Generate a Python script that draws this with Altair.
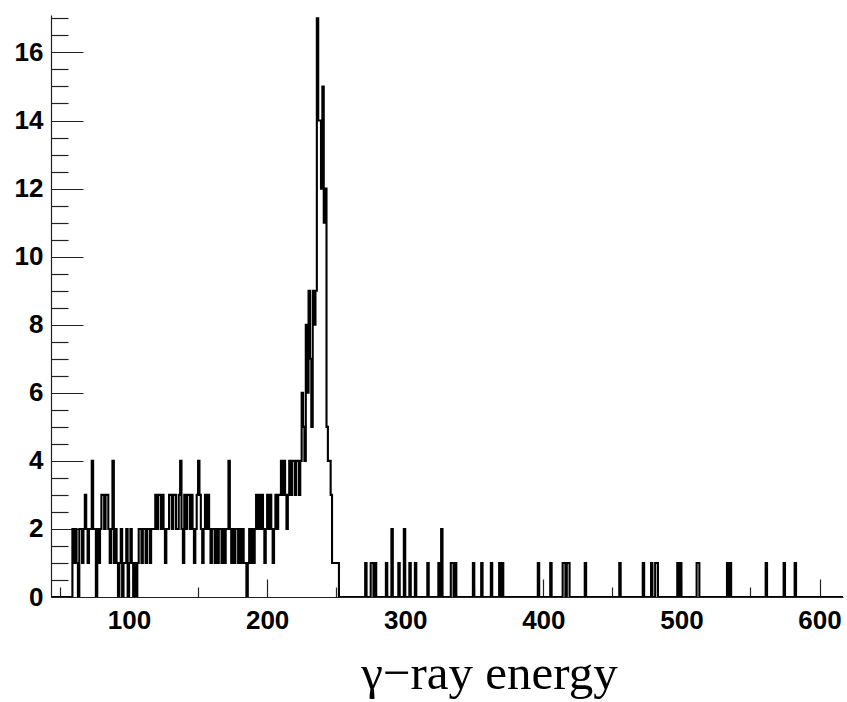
import altair as alt
import pandas as pd

# ---- data: 1-unit bins (lower edge) with non-zero content ----
energy = [59, 60, 61, 62, 64, 65, 66, 67, 68, 69, 70, 71, 72, 73, 74, 75, 77, 78, 79,
          80, 81, 82, 83, 84, 85, 86, 87, 88, 89, 90, 91, 93, 94, 96, 97, 98, 100, 101, 102,
          104, 106, 107, 108, 109, 110, 111, 112, 113, 114, 115, 116, 117, 118, 119,
          120, 121, 122, 123, 124, 125, 126, 127, 128, 129, 130, 131, 132, 133, 134, 135,
          136, 137, 138, 139, 140, 141, 142, 143, 144, 145, 146, 147, 148, 149, 150, 151,
          152, 153, 154, 155, 156, 157, 158, 159, 160, 161, 162, 163, 164, 165, 166, 167,
          168, 169, 170, 171, 172, 173, 174, 175, 176, 177, 178, 179, 180, 181, 182, 183,
          184, 186, 187, 188, 189, 190, 191, 192, 193, 194, 195, 196, 197, 198, 199, 200,
          201, 202, 203, 204, 205, 206, 207, 208, 209, 210, 211, 212, 213, 214, 215, 216,
          217, 218, 219, 220, 221, 222, 223, 224, 225, 226, 227, 228, 229, 230, 231, 232,
          233, 234, 235, 236, 237, 238, 239, 240, 241, 242, 243, 244, 245, 246, 247, 248,
          249, 250, 251,
          271, 275, 276, 278, 286, 290, 295, 299, 303, 307, 316, 324, 326, 333, 334, 336,
          349, 355, 362, 368, 370, 396, 405, 414, 415, 417, 418, 430, 455, 472, 478, 481,
          482, 497, 499, 511, 512, 533, 535, 561, 574, 582]
count = [2, 1, 2, 1, 2, 2, 1, 2, 3, 2, 1, 2, 2, 4, 2, 2, 2, 1, 2,
         3, 3, 2, 3, 3, 2, 1, 2, 4, 1, 2, 1, 1, 2, 1, 1, 2, 1, 2, 1,
         1, 1, 2, 2, 1, 2, 2, 1, 2, 2, 1, 2, 2, 2, 3,
         2, 3, 3, 2, 3, 2, 1, 2, 2, 3, 3, 2, 3, 3, 2, 2,
         3, 4, 2, 1, 3, 2, 3, 3, 2, 3, 2, 1, 2, 3, 4, 3,
         2, 1, 2, 3, 2, 3, 2, 1, 2, 2, 1, 2, 1, 2, 2, 1,
         2, 1, 2, 2, 4, 2, 1, 2, 1, 2, 2, 1, 2, 1, 2, 1,
         1, 1, 2, 1, 2, 1, 2, 3, 2, 3, 2, 3, 2, 1, 2, 3,
         2, 3, 2, 1, 2, 3, 2, 3, 3, 4, 3, 4, 3, 2, 3, 4,
         3, 4, 4, 3, 4, 4, 3, 4, 6, 5, 4, 8, 6, 9, 7, 5,
         9, 8, 9, 17, 14, 14, 12, 15, 11, 12, 5, 4, 4, 3, 1, 1,
         1, 1, 1,
         1, 1, 1, 1, 1, 2, 1, 2, 1, 1, 1, 1, 2, 1, 1, 1,
         1, 1, 1, 1, 1, 1, 1, 1, 1, 1, 1, 1, 1, 1, 1, 1,
         1, 1, 1, 1, 1, 1, 1, 1, 1, 1]

x_range = [43.5, 617.0]
y_range = [0, 17.1]
x_label_values = [100, 200, 300, 400, 500, 600]
x_tick_values = [50, 100, 150, 200, 250, 300, 350, 400, 450, 500, 550, 600]
y_label_values = [0, 2, 4, 6, 8, 10, 12, 14, 16]
y_tick_values = [i * 0.5 for i in range(0, 35)]

# build the histogram outline table
content = dict(zip(energy, count))
lo = 44
hi = 617
rows = [{"E": e, "N": content.get(e, 0)} for e in range(lo, hi)]
rows.append({"E": hi, "N": rows[-1]["N"]})
df = pd.DataFrame(rows)

W, H = 792, 582
xs = alt.Scale(domain=x_range, nice=False, zero=False)
ys = alt.Scale(domain=y_range, nice=False, zero=True)

hist = alt.Chart(df).mark_line(
    interpolate="step-after", color="black", strokeWidth=2.1, clip=True
).encode(
    x=alt.X("E:Q", scale=xs, axis=alt.Axis(
        values=x_label_values, ticks=False, tickSize=0, grid=False,
        domainColor="#222222", domainWidth=1.2,
        labelFont="Liberation Sans", labelFontWeight="bold", labelFontSize=26,
        labelColor="black", labelPadding=10, labelFlush=False,
        title="γ−ray energy", titleFont="Liberation Serif", titleFontWeight="normal",
        titleFontSize=49, titleColor="black", titleX=438, titleY=91,
        titleAlign="center", titleBaseline="alphabetic", titleAnchor="start")),
    y=alt.Y("N:Q", scale=ys, axis=alt.Axis(
        values=y_label_values, ticks=False, tickSize=0, grid=False,
        domainColor="#222222", domainWidth=1.2,
        labelFont="Liberation Sans", labelFontWeight="bold", labelFontSize=26,
        labelColor="black", labelPadding=8, labelFlush=False, title="")),
)

tick_layer = alt.Chart(df).mark_line(opacity=0).encode(
    x=alt.X("E:Q", scale=xs, axis=alt.Axis(
        orient="top", offset=-H, values=x_tick_values, labels=False, domain=False,
        grid=False, tickColor="#222222", tickWidth=1.2,
        tickSize={"condition": {"test": "datum.value % 100 === 0", "value": 18}, "value": 10},
        title="")),
    y=alt.Y("N:Q", scale=ys, axis=alt.Axis(
        orient="right", offset=-W, values=y_tick_values, labels=False, domain=False,
        grid=False, tickColor="#222222", tickWidth=1.2,
        tickSize={"condition": {"test": "datum.value % 2 === 0", "value": 32}, "value": 17},
        title="")),
)

chart = alt.layer(hist, tick_layer).resolve_axis(
    x="independent", y="independent"
).properties(
    width=W, height=H,
    autosize=alt.AutoSizeParams(type="none"),
    padding={"left": 51, "top": 15, "right": 4, "bottom": 105},
    background="white",
).configure_view(strokeWidth=0)

chart.save("out.html", embed_options={"renderer": "svg", "actions": False})
